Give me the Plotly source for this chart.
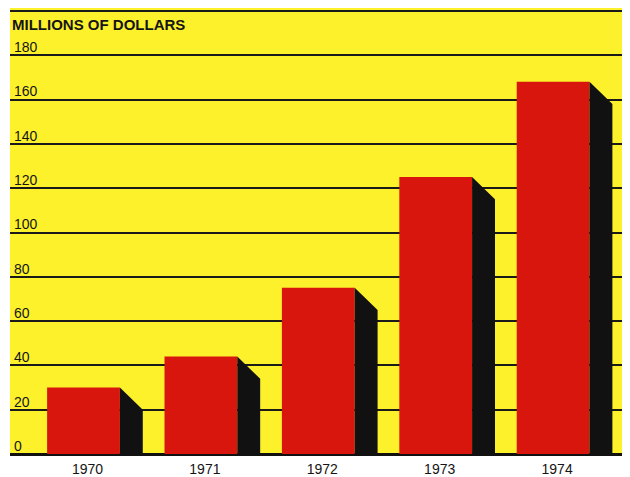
import plotly.graph_objects as go

years = ["1970", "1971", "1972", "1973", "1974"]
values = [30, 44, 75, 125, 168]
y_ticks = [0, 20, 40, 60, 80, 100, 120, 140, 160, 180, 200]
y_tick_text = ["0", "20", "40", "60", "80", "100", "120", "140", "160", "180", ""]
y_title = "MILLIONS OF DOLLARS"

YELLOW = "#FDF12B"
RED = "#D8160E"
SHADOW = "#111111"
INK = "#151515"
FONT = "Liberation Sans, Arial"

pos = list(range(len(years)))
bar_w = 0.62
sh_w = 0.195
sh_drop = 10

# shadow polygons (side face), built from the data values
sx, sy = [], []
for p, v in zip(pos, values):
    x0 = p + bar_w / 2
    x1 = x0 + sh_w
    sx += [x0, x1, x1, x0, x0, None]
    sy += [v, max(v - sh_drop, 0), 0, 0, v, None]

fig = go.Figure()
fig.add_trace(go.Scatter(x=sx, y=sy, fill="toself", fillcolor=SHADOW,
                         mode="lines", line=dict(width=0, color=SHADOW),
                         hoverinfo="skip", showlegend=False))
fig.add_trace(go.Bar(x=pos, y=values, width=bar_w, marker=dict(color=RED, line=dict(width=0)),
                     showlegend=False))

fig.add_annotation(text=y_title, xref="paper", yref="y", x=0.0, y=198.6,
                   xanchor="left", yanchor="top", showarrow=False,
                   font=dict(family=FONT, size=15, color=INK, weight="bold"))

# page has an 8px body margin, so the figure is sized 8px smaller
fig.update_layout(
    width=622, height=469,
    margin=dict(l=2, r=0, t=0, b=20),
    paper_bgcolor="white", plot_bgcolor=YELLOW,
    xaxis=dict(range=[-0.626, 4.655], tickvals=pos, ticktext=years,
               showgrid=False, zeroline=False, showline=False, ticks="",
               ticklabelshift=4, ticklabelstandoff=4,
               tickfont=dict(family=FONT, size=14, color=INK)),
    yaxis=dict(range=[-0.45, 201.35], tickvals=y_ticks, ticktext=y_tick_text,
               showgrid=True, gridcolor="#1a1a1a", gridwidth=1.8,
               zeroline=True, zerolinecolor="#111111", zerolinewidth=3,
               showline=False, ticks="", ticklabelposition="inside",
               ticklabelshift=-8, ticklabelstandoff=1,
               tickfont=dict(family=FONT, size=14, color=INK)),
)

fig.write_html("out.html")
